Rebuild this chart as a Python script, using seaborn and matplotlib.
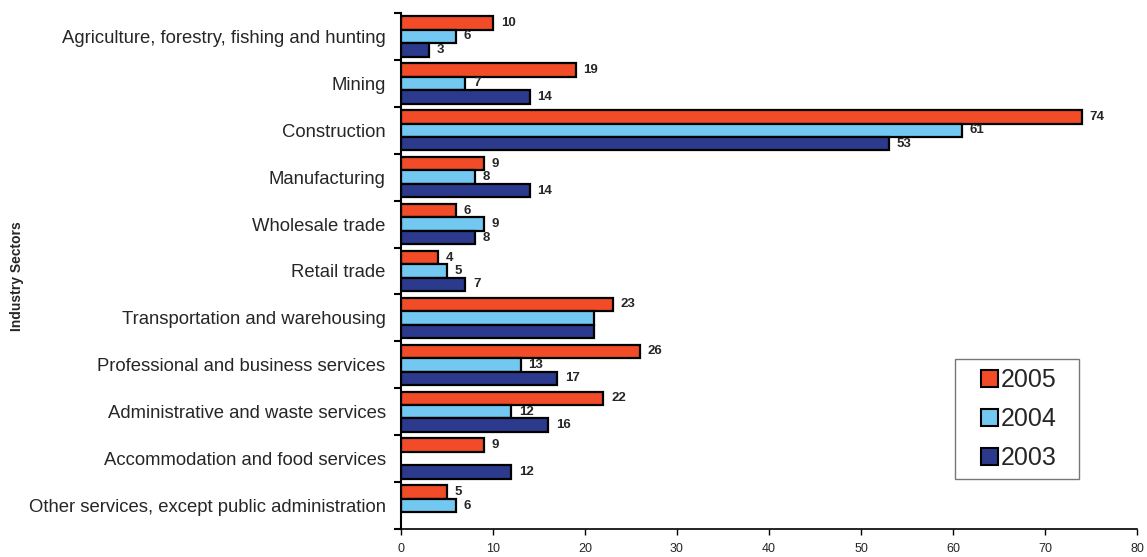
import numpy as np
import pandas as pd
import matplotlib
matplotlib.use("Agg")
import matplotlib.pyplot as plt
from matplotlib.patches import Patch, Rectangle
from matplotlib.legend_handler import HandlerPatch
from matplotlib.ticker import FixedLocator, NullFormatter
from matplotlib import font_manager
import seaborn as sns

sectors = [
    "Agriculture, forestry, fishing and hunting",
    "Mining",
    "Construction",
    "Manufacturing",
    "Wholesale trade",
    "Retail trade",
    "Transportation and warehousing",
    "Professional and business services",
    "Administrative and waste services",
    "Accommodation and food services",
    "Other services, except public administration",
]
years = ["2005", "2004", "2003"]
v2005 = [10, 19, 74, 9, 6, 4, 23, 26, 22, 9, 5]
v2004 = [6, 7, 61, 8, 9, 5, 21, 13, 12, np.nan, 6]
v2003 = [3, 14, 53, 14, 8, 7, 21, 17, 16, 12, np.nan]
# bars drawn without a value label: (year, sector index)
unlabeled = {("2004", 6), ("2003", 6)}

colors = {"2005": "#F24B28", "2004": "#72C8F0", "2003": "#2B3A8C"}

rows = []
for yr, vals in zip(years, [v2005, v2004, v2003]):
    for s, v in zip(sectors, vals):
        rows.append({"Sector": s, "Year": yr, "Value": v})
df = pd.DataFrame(rows)

sns.set_style("white")
plt.rcParams["font.family"] = ["Liberation Sans", "DejaVu Sans"]

# condensed face for the value axis numbers, if present
names = {f.name for f in font_manager.fontManager.ttflist}
narrow = ["Liberation Sans Narrow", "Liberation Sans"] if "Liberation Sans Narrow" in names else ["Liberation Sans"]

W, H = 1147, 557
x0, x1, y0, y1 = 401, 1137, 13, 529
fig = plt.figure(figsize=(W / 100, H / 100), dpi=100)
ax = fig.add_axes([x0 / W, 1 - y1 / H, (x1 - x0) / W, (y1 - y0) / H])

sns.barplot(data=df, y="Sector", x="Value", hue="Year", order=sectors,
            hue_order=years, palette=colors, saturation=1, orient="h",
            width=0.86, edgecolor="black", linewidth=1.6, ax=ax, legend=False)

# value labels
for container, yr in zip(ax.containers, years):
    for i, bar in enumerate(container):
        w = bar.get_width()
        if np.isnan(w) or (yr, i) in unlabeled:
            continue
        ax.annotate(f"{int(w)}", (w, bar.get_y() + bar.get_height() / 2),
                    xytext=(5.5, 0), textcoords="offset points",
                    ha="left", va="center", fontsize=9.5, fontweight="bold")

ax.set_xlim(0, 80)
ax.set_ylim(10.5, -0.5)
ax.set_xticks(np.arange(0, 81, 10))
ax.tick_params(axis="x", labelsize=9, length=4, width=1, direction="out",
               pad=6, color="black", bottom=True)
for lab in ax.get_xticklabels():
    lab.set_family(narrow)
ax.set_yticks(range(len(sectors)))
ax.set_yticklabels(sectors, fontsize=13.3)
ax.tick_params(axis="y", which="major", length=0, pad=11)
ax.yaxis.set_minor_locator(FixedLocator(np.arange(-0.5, len(sectors), 1)))
ax.yaxis.set_minor_formatter(NullFormatter())
ax.tick_params(axis="y", which="minor", length=5, width=1.5, color="black",
               direction="out", left=True)

for side in ["top", "right"]:
    ax.spines[side].set_visible(False)
for side in ["left", "bottom"]:
    ax.spines[side].set_color("black")
ax.spines["left"].set_linewidth(1.5)
ax.spines["bottom"].set_linewidth(1.2)

ax.set_xlabel("")
ax.set_ylabel("")
fig.text(17 / W, 1 - 276 / H, "Industry Sectors", rotation=90,
         ha="center", va="center", fontsize=10, fontweight="bold")


def square_at_right(legend, orig_handle, xdescent, ydescent, width, height, fontsize):
    # square swatch pushed to the right end of the handle slot
    return Rectangle((-xdescent + width - height, -ydescent), height, height)


# legend box spanning x 955..1079, y 359..473 (pixels)
lx0, lx1, ly0, ly1 = 955, 1079, 359, 473
bbox = ((lx0 - x0) / (x1 - x0), (y1 - ly1) / (y1 - y0),
        (lx1 - lx0) / (x1 - x0), (ly1 - ly0) / (y1 - y0))
handles = [Patch(facecolor=colors[y], edgecolor="black", linewidth=1.5, label=y)
           for y in years]
leg = ax.legend(handles=handles, loc="upper left", bbox_to_anchor=bbox,
                mode="expand", borderaxespad=0,
                fontsize=18, frameon=True, fancybox=False,
                handlelength=1.36, handleheight=0.68, handletextpad=0.12,
                labelspacing=0.6, borderpad=0.36,
                handler_map={Patch: HandlerPatch(patch_func=square_at_right)})
leg.get_frame().set_edgecolor("#555555")
leg.get_frame().set_linewidth(1.0)

fig.savefig("out.png", dpi=100)
